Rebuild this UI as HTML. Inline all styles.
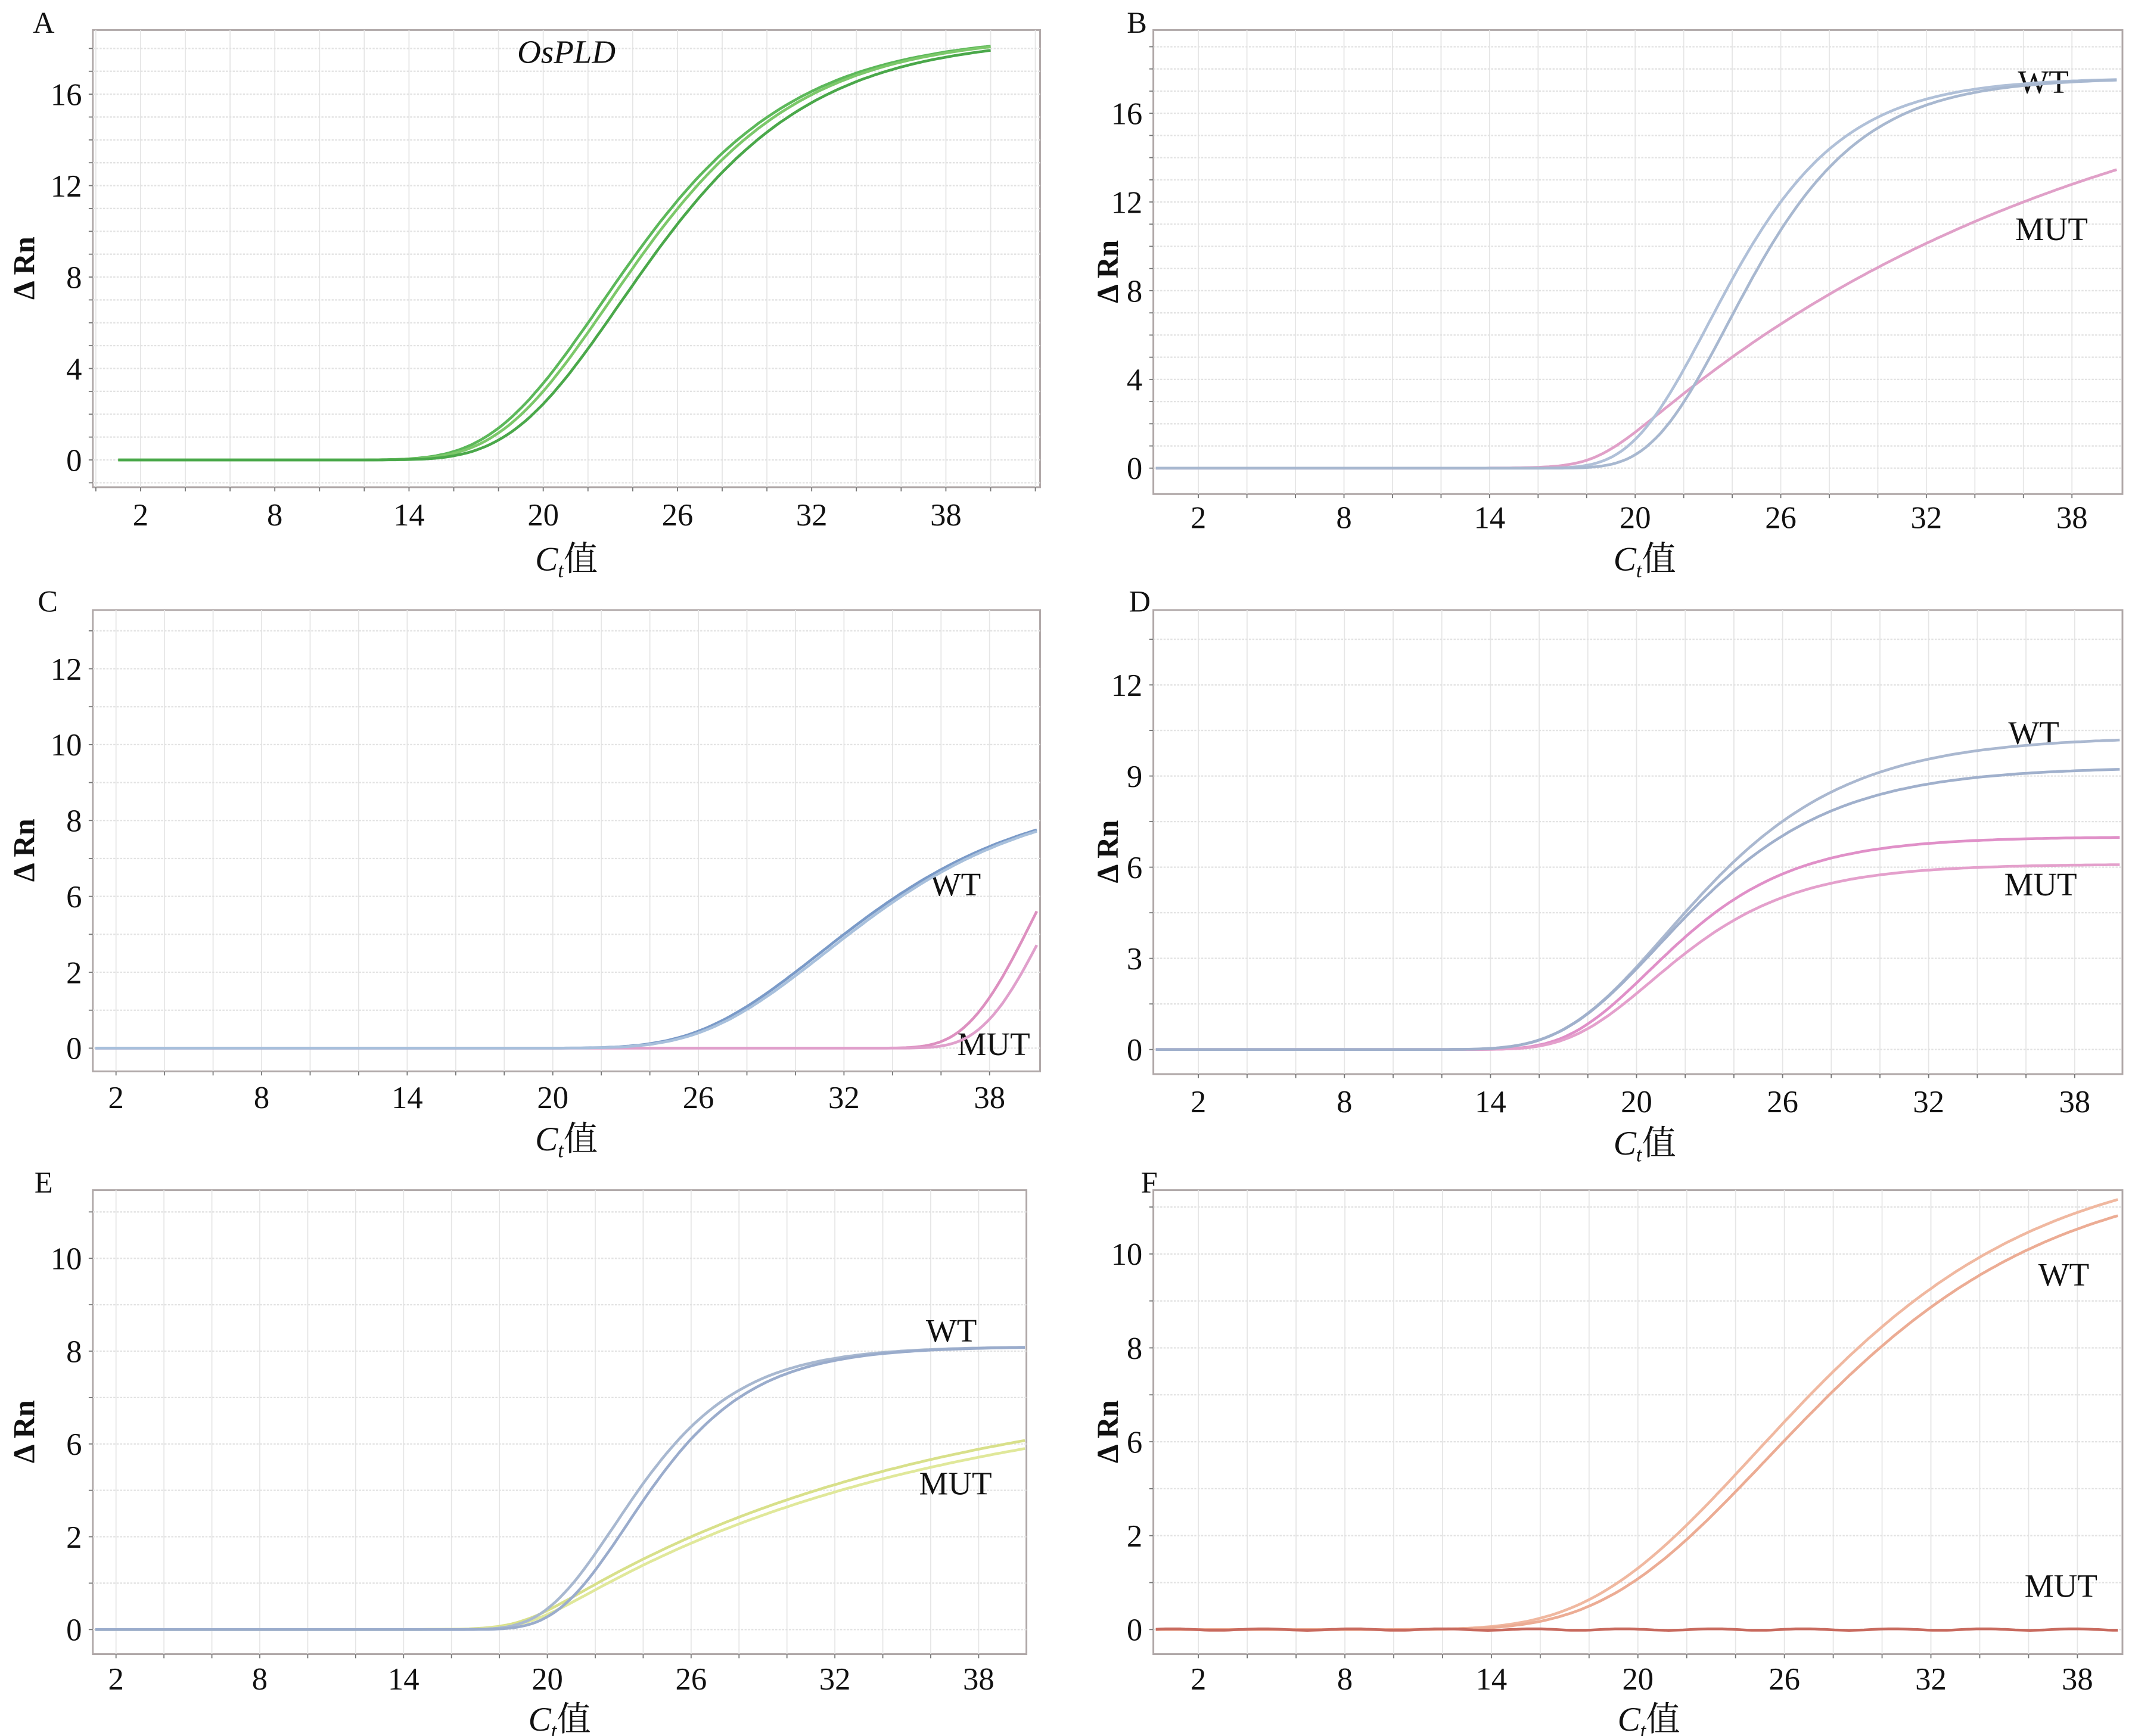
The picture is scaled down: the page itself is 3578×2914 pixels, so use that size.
<!DOCTYPE html>
<html><head><meta charset="utf-8"><style>
html,body{margin:0;padding:0;background:#fff;}
svg{display:block;}
text{font-family:"Liberation Serif","Noto Serif CJK SC",serif;fill:#111;}
</style></head><body>
<svg id="s" xmlns="http://www.w3.org/2000/svg" width="3578" height="2914" viewBox="0 0 1562 1272" preserveAspectRatio="none">
<rect width="1562" height="1272" fill="#fff"/>
</svg>
<script>
var S=document.getElementById('s'),NS='http://www.w3.org/2000/svg';
function el(t,a,txt){var e=document.createElementNS(NS,t);for(var k in a)e.setAttribute(k,a[k]);if(txt!==undefined)e.textContent=txt;S.appendChild(e);return e;}
function gomp(A,k,m){return function(x){return A*Math.exp(-Math.exp(-k*(x-m)));};}
function expo(A,x0,t){return function(x){var u=0.8*Math.log(1+Math.exp((x-x0)/0.8));return A*(1-Math.exp(-u/t));};}
var panels=[
{L:'A',lx:32,ly:24,box:[68,22,762,357],xt:[103,693],xly:385,y0:337,step:67,per:4,labs:['0','4','8','12','16'],sub:4,ylx:18,xlab:[415,418],
 title:'OsPLD',curves:[[gomp(18.6,0.207,22.6),'#5cb85a'],[gomp(18.6,0.207,22.9),'#7cc86a'],[gomp(18.5,0.207,23.4),'#4aa84a']],xs:1,xe:40},
{L:'B',lx:833,ly:24,box:[845,22,1555,362],xt:[878,1518],xly:387,y0:343,step:65,per:4,labs:['0','4','8','12','16'],sub:4,ylx:812,xlab:[1205,418],
 tags:[['WT',1497,68],['MUT',1503,176]],curves:[[expo(20,18.5,19.1),'#e0a0c8'],[gomp(17.6,0.32,23.0),'#b0c0d8'],[gomp(17.6,0.32,23.8),'#a8b8d0']]},
{L:'C',lx:35,ly:448,box:[68,447,762,785],xt:[85,725],xly:812,y0:768,step:55.6,labs:['0','2','6','8','10','12'],sub:2,ylx:18,xlab:[415,843],
 tags:[['WT',700,656],['MUT',728,773]],curves:[[gomp(5,0.35,40),'#dd90c0'],[gomp(5,0.35,40.7),'#e0a0cc'],[gomp(3.4,0.2,31.0),'#7a9ac8'],[gomp(3.4,0.2,31.2),'#a8c0dc']]},
{L:'D',lx:835,ly:448,box:[845,447,1555,787],xt:[878,1520],xly:815,y0:769,step:66.8,labs:['0','3','6','9','12'],sub:2,ylx:812,xlab:[1205,846],
 tags:[['WT',1490,545],['MUT',1495,656]],curves:[[gomp(7.0/3,0.3,20.5),'#e090c8'],[gomp(6.1/3,0.3,20.6),'#e4a0cc'],[gomp(10.3/3,0.24,21.2),'#aab8d0'],[gomp(9.3/3,0.25,20.9),'#a0b0cc']]},
{L:'E',lx:32,ly:874,box:[68,872,752,1212],xt:[85,717],xly:1238,y0:1194,step:68,labs:['0','2','6','8','10'],sub:2,ylx:18,xlab:[410,1268],
 tags:[['WT',697,983],['MUT',700,1095]],curves:[[expo(2.75,19,15.5),'#d8e08a'],[expo(2.65,19.3,15.5),'#e0e89a'],[gomp(3.05,0.343,22.8),'#a8b8d0'],[gomp(3.05,0.343,23.3),'#9aaccc']]},
{L:'F',lx:842,ly:874,box:[845,872,1555,1212],xt:[878,1522],xly:1238,y0:1194,step:68.8,labs:['0','2','6','8','10'],sub:2,ylx:812,xlab:[1208,1268],
 tags:[['WT',1512,942],['MUT',1510,1170]],curves:[[gomp(5.1,0.15,24.8),'#f0b8a0'],[gomp(4.95,0.15,25.3),'#ecac94'],[function(x){return 0.008*Math.sin(x*1.7);},'#c86a5e']]}
];
panels.forEach(function(p){
 var b=p.box,x0=b[0],y0b=b[1],x1=b[2],y1=b[3],per=p.per||1;
 var ux=(p.xt[1]-p.xt[0])/36;function X(c){return p.xt[0]+(c-2)*ux;}
 function Y(v){return p.y0-v*p.step;}
 el('rect',{x:x0,y:y0b,width:x1-x0,height:y1-y0b,fill:'#fff',stroke:'#b0a8a8','stroke-width':1.3});
 for(var c=0;c<=44;c+=2){var gx=X(c);if(gx>x0+2&&gx<x1-2){el('line',{x1:gx,y1:y0b,x2:gx,y2:y1,stroke:'#e6e6e6','stroke-width':0.8});
   el('line',{x1:gx,y1:y1,x2:gx,y2:y1+3,stroke:'#777','stroke-width':0.8});}}
 for(var v=-1;v<=20;v+=1/p.sub){var gy=Y(v);if(gy>y0b+3&&gy<y1-3){el('line',{x1:x0,y1:gy,x2:x1,y2:gy,stroke:'#e2e2e2','stroke-width':1,'stroke-dasharray':'1.5,1'});
   el('line',{x1:x0-3,y1:gy,x2:x0,y2:gy,stroke:'#777','stroke-width':0.8});}}
 [2,8,14,20,26,32,38].forEach(function(c){el('text',{x:X(c),y:p.xly,'font-size':23,'text-anchor':'middle'},String(c));});
 p.labs.forEach(function(l,i){el('text',{x:x0-8,y:Y(i)+8,'font-size':23,'text-anchor':'end'},l);});
 el('text',{x:p.lx,y:p.ly,'font-size':22,'text-anchor':'middle'},p.L);
 el('text',{x:p.ylx,y:(y0b+y1)/2,'font-size':22,'font-weight':'bold','text-anchor':'middle',transform:'rotate(-90 '+(p.ylx+7)+' '+((y0b+y1)/2)+')'},'\u0394 Rn');
 var t=el('text',{x:p.xlab[0],y:p.xlab[1],'font-size':25,'text-anchor':'middle'});
 var a=document.createElementNS(NS,'tspan');a.setAttribute('font-style','italic');a.textContent='C';t.appendChild(a);
 var s2=document.createElementNS(NS,'tspan');s2.setAttribute('font-style','italic');s2.setAttribute('font-size','15');s2.setAttribute('dy','5');s2.textContent='t';t.appendChild(s2);
 var s3=document.createElementNS(NS,'tspan');s3.setAttribute('dy','-5');s3.textContent='值';t.appendChild(s3);
 if(p.title)el('text',{x:415,y:46,'font-size':24,'font-style':'italic','text-anchor':'middle'},p.title);
 (p.tags||[]).forEach(function(g){el('text',{x:g[1],y:g[2],'font-size':24,'text-anchor':'middle'},g[0]);});
 var xs=p.xs!==undefined?p.xs:2-(p.xt[0]-x0)/ux+0.1, xe=p.xe!==undefined?p.xe:38+(x1-p.xt[1])/ux-0.05;
 p.curves.forEach(function(cv){var d='';for(var c=xs;c<=xe+1e-6;c+=0.2){var yy=Y(cv[0](c)/per);d+=(d?'L':'M')+X(c).toFixed(1)+' '+yy.toFixed(1);}
  el('path',{d:d,fill:'none',stroke:cv[1],'stroke-width':2,'stroke-linejoin':'round'});});
});
</script>
</body></html>
